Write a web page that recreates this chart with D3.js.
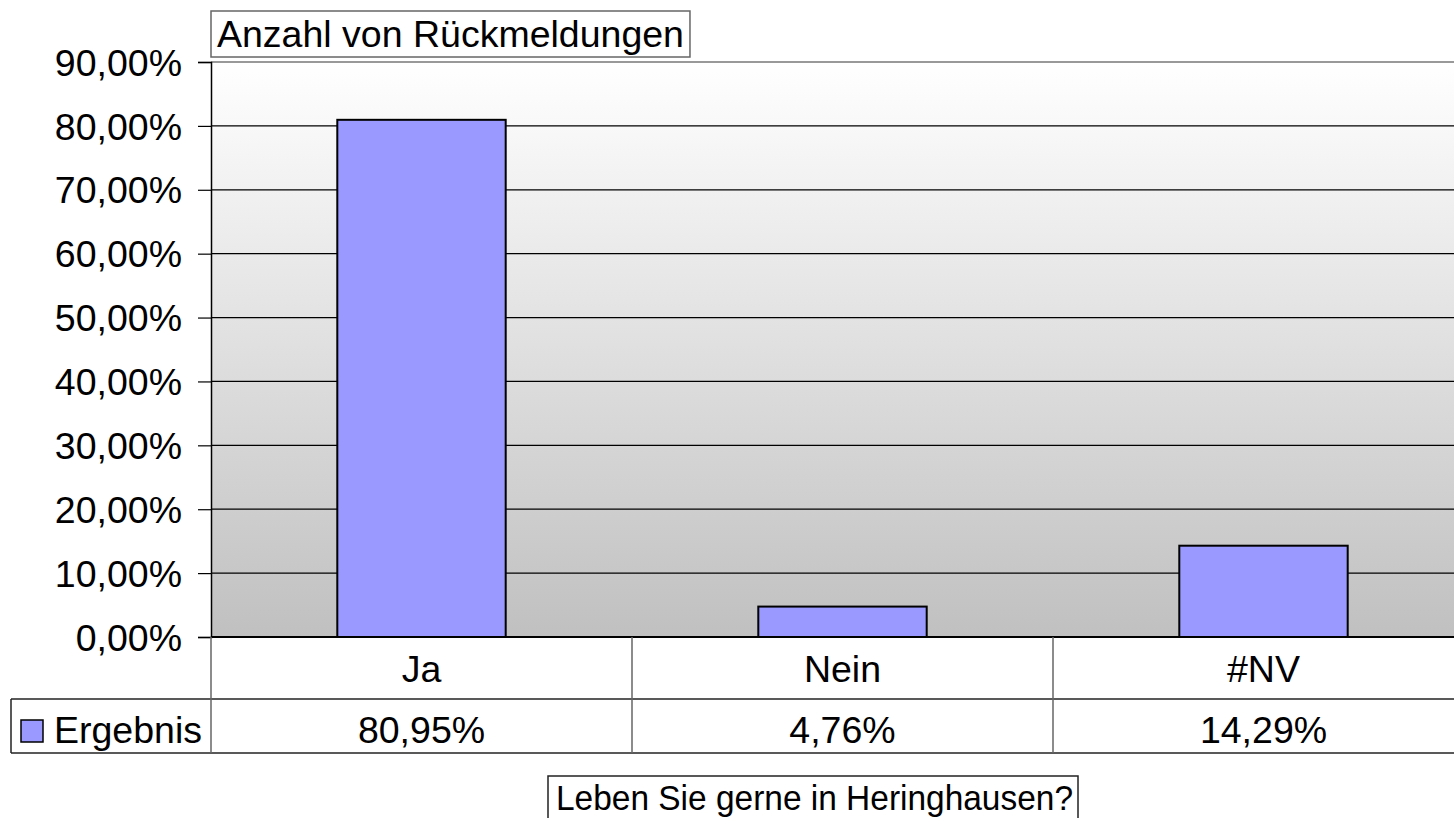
<!DOCTYPE html>
<html>
<head>
<meta charset="utf-8">
<script src="https://cdn.jsdelivr.net/npm/d3@7"></script>
<style>
html,body{margin:0;padding:0;background:#fff;}
svg{display:block;font-family:"Liberation Sans",Arial,sans-serif;}
</style>
</head>
<body>
<svg id="chart" width="1454" height="818"></svg>
<script>
const categories = ["Ja", "Nein", "#NV"];
const values = [80.95, 4.76, 14.29];
const valueLabels = ["80,95%", "4,76%", "14,29%"];
const seriesName = "Ergebnis";
const yTicks = [0, 10, 20, 30, 40, 50, 60, 70, 80, 90];
const chartTitle = "Anzahl von Rückmeldungen";
const axisTitle = "Leben Sie gerne in Heringhausen?";

(function () {
const svg = d3.select("#chart");
const W = 1454;
const pL = 211, pR = 1474, pT = 62, pB = 637;
const row1 = 699, row2 = 753;
const FS = 37.5;
const barColor = "#9999ff";

const x = d3.scaleBand().domain(categories).range([pL, pR]).padding(0);
const y = d3.scaleLinear().domain([0, 90]).range([pB, pT]);

// gradient background
const defs = svg.append("defs");
const grad = defs.append("linearGradient").attr("id", "bg").attr("x1", 0).attr("y1", 0).attr("x2", 0).attr("y2", 1);
grad.append("stop").attr("offset", "0%").attr("stop-color", "#ffffff");
grad.append("stop").attr("offset", "100%").attr("stop-color", "#c0c0c0");
svg.append("rect").attr("x", pL).attr("y", pT).attr("width", W - pL).attr("height", pB - pT).attr("fill", "url(#bg)");

// gridlines
svg.append("g").selectAll("line").data(yTicks.filter(d => d > 0 && d < 90)).join("line")
  .attr("x1", pL).attr("x2", W).attr("y1", d => y(d)).attr("y2", d => y(d))
  .attr("stroke", "#000").attr("stroke-width", 1.2);
// top border
svg.append("line").attr("x1", pL).attr("x2", W).attr("y1", y(90)).attr("y2", y(90))
  .attr("stroke", "#999").attr("stroke-width", 2);

// bars
svg.append("g").selectAll("rect").data(values).join("rect")
  .attr("x", (d, i) => x(categories[i]) + x.bandwidth() * 0.3)
  .attr("width", x.bandwidth() * 0.4)
  .attr("y", d => y(d))
  .attr("height", d => y(0) - y(d))
  .attr("fill", barColor).attr("stroke", "#000").attr("stroke-width", 2);

// y axis
const yAxis = d3.axisLeft(y).tickValues(yTicks).tickSize(13).tickPadding(16)
  .tickFormat(d => d + ",00%");
const ga = svg.append("g").attr("transform", `translate(${pL},0)`).call(yAxis);
ga.select(".domain").attr("stroke", "#000").attr("stroke-width", 1.5);
ga.selectAll(".tick line").attr("stroke", "#000").attr("stroke-width", 1.2);
ga.selectAll(".tick text").attr("font-size", FS).attr("fill", "#000")
  .attr("font-family", "'Liberation Sans',Arial,sans-serif").attr("dy", "0.35em");

// data table
const tbl = svg.append("g");
tbl.append("line").attr("x1", pL).attr("x2", W).attr("y1", pB).attr("y2", pB).attr("stroke", "#000").attr("stroke-width", 2);
tbl.append("line").attr("x1", 11).attr("x2", W).attr("y1", row1).attr("y2", row1).attr("stroke", "#222").attr("stroke-width", 1.5);
tbl.append("line").attr("x1", 11).attr("x2", W).attr("y1", row2).attr("y2", row2).attr("stroke", "#222").attr("stroke-width", 1.5);
tbl.append("line").attr("x1", 11).attr("x2", 11).attr("y1", row1).attr("y2", row2).attr("stroke", "#222").attr("stroke-width", 1.5);
tbl.append("line").attr("x1", pL).attr("x2", pL).attr("y1", pB).attr("y2", row2).attr("stroke", "#666").attr("stroke-width", 1.5);
tbl.selectAll("line.sep").data(categories.slice(1)).join("line").attr("class", "sep")
  .attr("x1", d => x(d)).attr("x2", d => x(d)).attr("y1", pB).attr("y2", row2)
  .attr("stroke", "#666").attr("stroke-width", 1.5);

tbl.selectAll("text.cat").data(categories).join("text").attr("class", "cat")
  .attr("x", d => x(d) + x.bandwidth() / 2).attr("y", 682)
  .attr("text-anchor", "middle").attr("font-size", FS).attr("fill", "#000").text(d => d);
tbl.selectAll("text.val").data(valueLabels).join("text").attr("class", "val")
  .attr("x", (d, i) => x(categories[i]) + x.bandwidth() / 2).attr("y", 743)
  .attr("text-anchor", "middle").attr("font-size", FS).attr("fill", "#000").text(d => d);

// legend key
tbl.append("rect").attr("x", 21).attr("y", 720).attr("width", 22).attr("height", 22)
  .attr("fill", barColor).attr("stroke", "#000").attr("stroke-width", 1.5);
tbl.append("text").attr("x", 54).attr("y", 743).attr("font-size", FS).attr("fill", "#000").text(seriesName);

// chart title box
const g1 = svg.append("g");
const r1 = g1.append("rect");
const t1 = g1.append("text").attr("x", 217).attr("y", 47).attr("font-size", FS).attr("fill", "#000").text(chartTitle);
const b1 = t1.node().getBBox();
r1.attr("x", 211).attr("y", 11).attr("width", b1.width + 12).attr("height", 46)
  .attr("fill", "#fff").attr("stroke", "#666").attr("stroke-width", 1.5);

// axis title box
const g2 = svg.append("g");
const r2 = g2.append("rect");
const t2 = g2.append("text").attr("x", 556).attr("y", 810).attr("font-size", 35).attr("fill", "#000")
  .attr("textLength", 517).attr("lengthAdjust", "spacingAndGlyphs").text(axisTitle);
r2.attr("x", 548).attr("y", 776).attr("width", 530).attr("height", 60)
  .attr("fill", "#fff").attr("stroke", "#222").attr("stroke-width", 1.5);
})();
</script>
</body>
</html>
